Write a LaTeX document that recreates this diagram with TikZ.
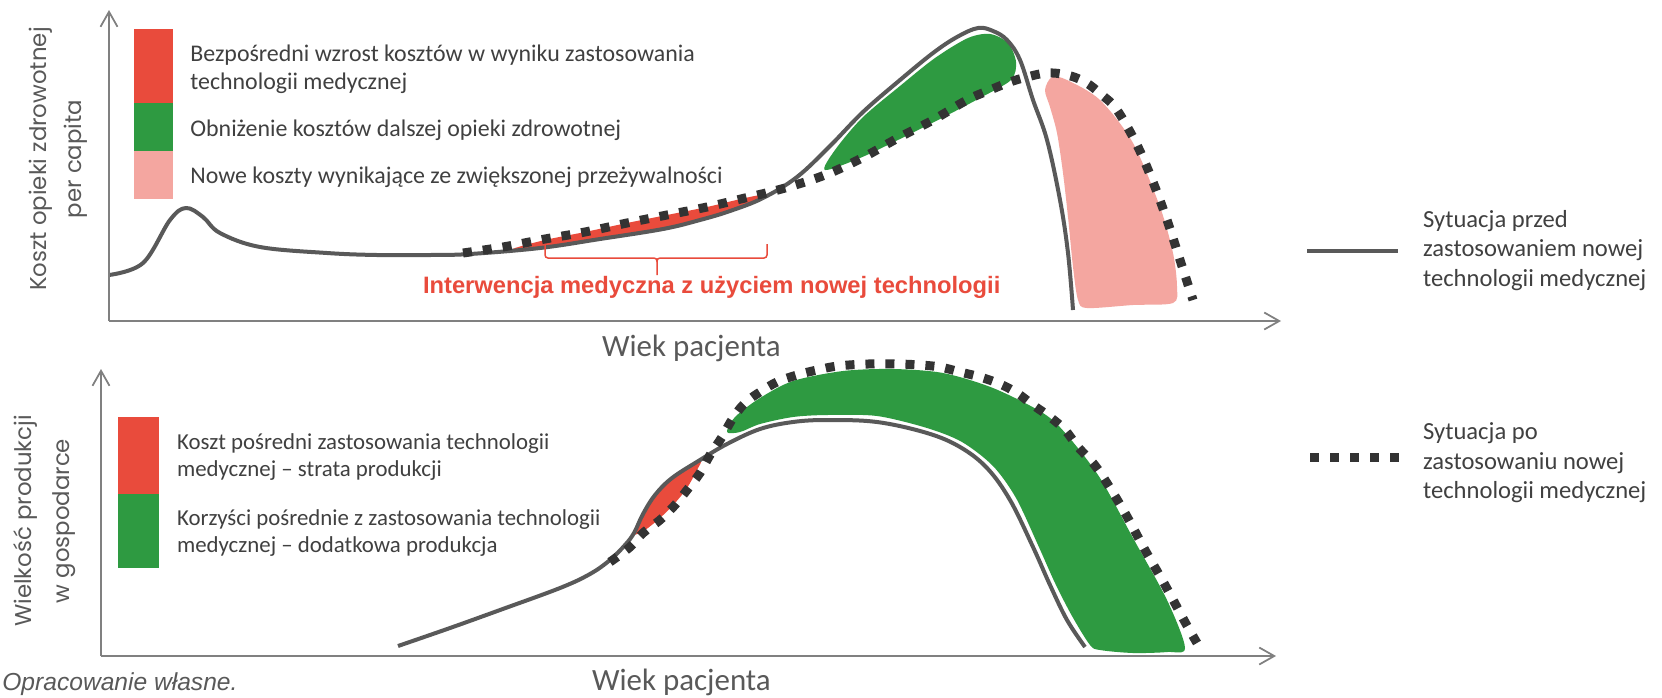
\documentclass[tikz,border=0pt]{standalone}
\usepackage{fontspec}
\setmainfont{Carlito}
\newfontfamily\axisfont{Poppins}
\newfontfamily\arialfont{Liberation Sans}
\usetikzlibrary{arrows.meta}
\definecolor{costred}{HTML}{E94B3C}
\definecolor{savegreen}{HTML}{2E9A41}
\definecolor{newpink}{HTML}{F4A6A0}
\definecolor{curvegray}{HTML}{595959}
\definecolor{axisgray}{HTML}{808080}
\definecolor{textgray}{HTML}{404040}
\definecolor{dotblack}{HTML}{333333}
\tikzstyle{axis} = [axisgray, line width=0.04cm,
        -{Straight Barb[length=0.3cm, width=0.34cm, line width=0.035cm]}]

\begin{document}
\begin{tikzpicture}[
        x=0.02cm, y=-0.02cm,
        every node/.style={inner sep=0pt, text=textgray},
        before/.style={curvegray, line width=0.08cm, line join=round},
        after/.style={dotblack, line width=0.18cm,
            dash pattern=on 0.18cm off 0.22cm},
        legtext/.style={anchor=base west, align=left,
            font=\fontsize{13.6}{16.1}\selectfont},
        lowtext/.style={anchor=base west, align=left,
            font=\fontsize{13}{15.5}\selectfont},
        sidetext/.style={anchor=base west, align=left,
            font=\fontsize{14}{16.6}\selectfont},
        axlabel/.style={rotate=90, align=center, text=curvegray,
            font=\axisfont\fontsize{13}{20}\selectfont},
        agelabel/.style={anchor=base west, text=curvegray,
            font=\fontsize{17.6}{20}\selectfont}
    ]
    \fill[white] (0,0) rectangle (1662,697);
    \useasboundingbox (0,0) rectangle (1662,697);

    % upper chart: health care cost
    \fill[newpink] plot[smooth cycle, tension=0.5] coordinates {
        (1045,90) (1052,77) (1067,80) (1100,100) (1133,143) (1160,207)
        (1173,253) (1177,287) (1173,303) (1133,305) (1087,308) (1078,300)
        (1073,267) (1068,217) (1063,173) (1057,133) (1050,107)};
    \fill[savegreen] plot[smooth cycle, tension=0.5] coordinates {
        (825,170) (860,158) (900,139) (940,119) (980,98) (1011,80)
        (1016,62) (1008,43) (990,34) (968,38) (935,58) (900,86)
        (862,118) (835,150)};
    \fill[costred] plot[smooth cycle, tension=0.5] coordinates {
        (513,249) (545,240) (585,232) (627,223) (667,215) (707,207)
        (745,198) (768,194) (760,201) (730,212) (700,220) (663,229)
        (600,239) (545,247)};
    \draw[before] plot[smooth, tension=0.6] coordinates {
        (109,275) (143,263) (170,220) (186,208) (203,217) (220,233)
        (260,247) (327,253) (377,255) (430,255) (470,254) (540,248)
        (600,239) (663,229) (700,220) (730,211) (763,198) (797,177)
        (830,146) (863,112) (900,80) (933,53) (957,37) (978,28)
        (993,31) (1007,40) (1020,60) (1033,100) (1047,140) (1060,200)
        (1068,253) (1073,310)};
    \draw[after] plot[smooth, tension=0.6] coordinates {
        (463,253) (503,247) (545,239) (585,232) (627,223) (667,215)
        (707,207) (745,198) (785,188) (825,175) (862,158) (898,138)
        (933,120) (967,100) (990,90) (1010,82) (1027,77) (1047,73)
        (1067,75) (1085,82) (1102,95) (1117,110) (1137,145) (1153,182)
        (1167,220) (1180,260) (1193,300)};
    \draw[costred, line width=0.03cm, rounded corners=0.06cm]
        (545,244) |- (657,258) -- (657,275);
    \draw[costred, line width=0.03cm, rounded corners=0.06cm]
        (657,262) |- (767,258) -- (767,244);
    \draw[axis] (109,321) -- (109,10);
    \draw[axis] (109,321) -- (1281,321);

    \fill[costred]   (134,29.3) rectangle (173,103.3);
    \fill[savegreen] (134,103.3) rectangle (173,150.7);
    \fill[newpink]   (134,150.7) rectangle (173,199.3);
    \node (direct) [legtext] at (190,89.3)
        {Bezpośredni wzrost kosztów w wyniku zastosowania\\technologii medycznej};
    \node (saving) [legtext] at (190,136)
        {Obniżenie kosztów dalszej opieki zdrowotnej};
    \node (newcost) [legtext] at (190,183.3)
        {Nowe koszty wynikające ze zwiększonej przeżywalności};
    \node (interv) [anchor=base west, text=costred,
        font=\arialfont\bfseries\fontsize{13.5}{15}\selectfont] at (422.7,293)
        {Interwencja medyczna z użyciem nowej technologii};
    \node (costax) [axlabel] at (58,159) {Koszt opieki zdrowotnej\\per capita};
    \node (age1) [agelabel] at (601.7,356.7) {Wiek pacjenta};

    % lower chart: production
    \fill[savegreen] plot[smooth cycle, tension=0.5] coordinates {
        (727,432) (735,417) (760,398) (793,381) (843,371) (893,369)
        (943,373) (993,388) (1043,413) (1067,435) (1100,478) (1133,538)
        (1167,600) (1185,648) (1167,652) (1133,653) (1100,650) (1090,645)
        (1072,616) (1055,583) (1038,545) (1016,498) (993,466) (962,442)
        (927,428) (877,416) (827,415) (793,417) (760,424) (740,432)};
    \fill[costred] plot[smooth cycle, tension=0.5] coordinates {
        (634,534) (643,514) (655,495) (672,478) (700,461) (697,470)
        (687,488) (675,503) (660,518) (645,530)};
    \draw[before] plot[smooth, tension=0.6] coordinates {
        (398,646) (450,628) (500,610) (560,588) (590,574) (610,560)
        (625,545) (634,533) (643,514) (655,495) (672,478) (700,460)
        (727,444) (760,429) (793,422) (827,420) (877,422) (927,433)
        (960,447) (987,468) (1010,500) (1033,547) (1050,585) (1067,620)
        (1085,647)};
    \draw[after] plot[smooth, tension=0.6] coordinates {
        (610,562) (630,547) (643,533) (660,520) (675,505) (687,490)
        (700,473) (710,455) (722,437) (733,418) (745,403) (760,392)
        (777,382) (797,375) (817,370) (838,366) (868,364) (898,364)
        (920,365) (940,367) (960,372) (980,377) (1000,384) (1017,393)
        (1033,405) (1050,417) (1065,430) (1078,447) (1093,463) (1105,480)
        (1125,513) (1145,550) (1165,585) (1185,622) (1197,643)};
    \draw[axis] (101,656) -- (101,369);
    \draw[axis] (101,656) -- (1276,656);

    \fill[costred]   (118.3,416.7) rectangle (159.3,494);
    \fill[savegreen] (118.3,494) rectangle (159.3,567.7);
    \node (loss) [lowtext] at (176.7,476.7)
        {Koszt pośredni zastosowania technologii\\medycznej – strata produkcji};
    \node (gain) [lowtext] at (176.7,552.7)
        {Korzyści pośrednie z zastosowania technologii\\medycznej – dodatkowa produkcja};
    \node (prodax) [axlabel, font=\axisfont\fontsize{13}{21.5}\selectfont]
        at (44.6,521) {Wielkość produkcji\\w gospodarce};
    \node (age2) [agelabel] at (591.7,690) {Wiek pacjenta};
    \node (source) [anchor=base west, text=curvegray,
        font=\arialfont\itshape\fontsize{14}{16}\selectfont] at (2,690)
        {Opracowanie własne.};

    % key to the two curves
    \draw[before] (1307,251) -- (1398,251);
    \node (prekey) [sidetext] at (1422.7,286)
        {Sytuacja przed\\zastosowaniem nowej\\technologii medycznej};
    \draw[after] (1310,457) -- (1400,457);
    \node (postkey) [sidetext] at (1422.7,498.3)
        {Sytuacja po\\zastosowaniu nowej\\technologii medycznej};
\end{tikzpicture}
\end{document}
